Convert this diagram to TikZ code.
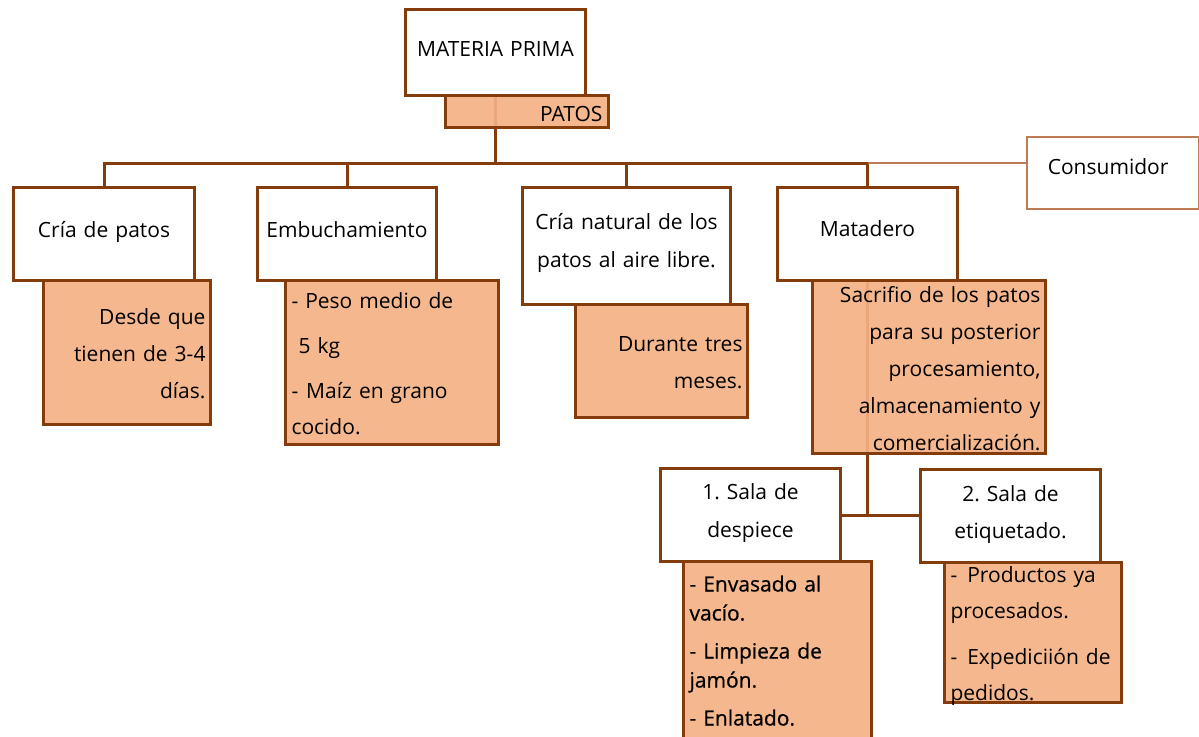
\documentclass[tikz,border=0pt]{standalone}
\usepackage{fontspec}
\setmainfont{Open Sans}
\newfontfamily\semibf[FakeBold=0.6]{Open Sans}
\usepackage{tikz}
\usetikzlibrary{backgrounds}
\frenchspacing
\definecolor{brownline}{HTML}{843C0C}
\definecolor{orangefill}{HTML}{F4B183}
\definecolor{lightline}{HTML}{BF7B52}
\tikzset{
  box/.style={rectangle, draw=brownline, line width=3pt, fill=white, anchor=north west,
    inner ysep=0pt, inner xsep=5pt, font=\fontsize{21pt}{37pt}\selectfont},
  notebox/.style={box, fill=orangefill, fill opacity=0.92, text opacity=1},
  link/.style={draw=brownline, line width=3pt},
  thinlink/.style={draw=lightline, line width=1.5pt},
}

\begin{document}
\begin{tikzpicture}[x=1pt, y=-1pt]
    \useasboundingbox (0,0) rectangle (1199,736);
    \clip (0,0) rectangle (1199,736);

    % Root of the tree
    \node[box, text width=170pt, text height=47pt, text depth=39pt, align=center] (materia) at (404,8) {MATERIA PRIMA};
    \node[notebox, inner xsep=6pt, text width=151pt, text height=26pt, text depth=6pt, align=right] (patos) at (444,94) {PATOS};

    % First level
    \node[box, text width=171pt, text height=50pt, text depth=43pt, align=center] (cria) at (12,186) {Cría de patos};
    \node[box, text width=169pt, text height=50pt, text depth=43pt, align=center] (embu) at (256,186) {Embuchamiento};
    \node[box, text width=198pt, text height=42pt, text depth=75pt, align=center,
      font=\fontsize{21pt}{38pt}\selectfont] (natural) at (521,186) {Cría natural de los\\patos al aire libre.};
    \node[box, text width=170pt, text height=49pt, text depth=44pt, align=center] (matadero) at (776,186) {Matadero};
    \node[box, draw=lightline, line width=1.5pt, inner xsep=21pt, text width=130pt, text height=38pt, text depth=34pt,
      align=left] (consumidor) at (1026,136) {Consumidor};

    % Notes under each step
    \node[notebox, text width=157pt, text height=44pt, text depth=100pt, align=right] (desde) at (42,279)
      {Desde que\\tienen de 3-4\\días.};
    \node[notebox, inner xsep=6pt, text width=201pt, text height=28pt, text depth=136pt, align=left,
      font=\fontsize{21pt}{36pt}\selectfont] (peso) at (284,279)
      {- Peso medio de\\[9pt]\hspace*{7pt}5 kg\\[9pt]-\hspace{8pt}Maíz en grano\\cocido.};
    \node[notebox, text width=162pt, text height=47pt, text depth=66pt, align=right] (durante) at (574,303)
      {Durante tres\\meses.};
    \node[notebox, text width=223pt, text height=22pt, text depth=151pt, align=right] (sacrifio) at (811,279)
      {Sacrifio de los patos\\para su posterior\\procesamiento,\\almacenamiento y\\comercialización.};

    % Rooms of the slaughterhouse
    \node[box, text width=170pt, text height=31pt, text depth=62pt, align=center,
      font=\fontsize{21pt}{38pt}\selectfont] (sala1) at (659,467) {1. Sala de\\despiece};
    \node[box, text width=170pt, text height=32pt, text depth=61pt, align=center] (sala2) at (919,468)
      {2. Sala de\\etiquetado.};
    \node[notebox, inner xsep=6pt, text width=176pt, text height=30pt, text depth=160pt, align=left,
      font=\semibf\fontsize{21pt}{29pt}\selectfont] (envasado) at (682,560)
      {- Envasado al\\vacío.\\[9pt]- Limpieza de\\jamón.\\[9pt]- Enlatado.};
    \node[notebox, inner xsep=6pt, text width=165pt, text height=20pt, text depth=120pt, align=left,
      font=\fontsize{21pt}{36pt}\selectfont] (productos) at (943,561)
      {-\hspace{10pt}Productos ya\\procesados.\\[10pt]-\hspace{10pt}Expediciión de\\pedidos.};

    % Connectors behind the boxes
    \begin{scope}[on background layer]
        \coordinate (bus) at (494,163);
        \draw[link] (materia.south) -- (materia.south |- bus);
        \draw[link] (cria.north) |- (bus) -| (matadero.north);
        \draw[link] (embu.north) -- (embu.north |- bus);
        \draw[link] (natural.north) -- (natural.north |- bus);
        \draw[thinlink] (matadero.north |- bus) -- (consumidor.west |- bus);
        \draw[link] (matadero.south) -- (matadero.south |- sala1.east);
        \draw[link] (sala1.east) -- (sala1.east -| sala2.west);
    \end{scope}
\end{tikzpicture}
\end{document}
